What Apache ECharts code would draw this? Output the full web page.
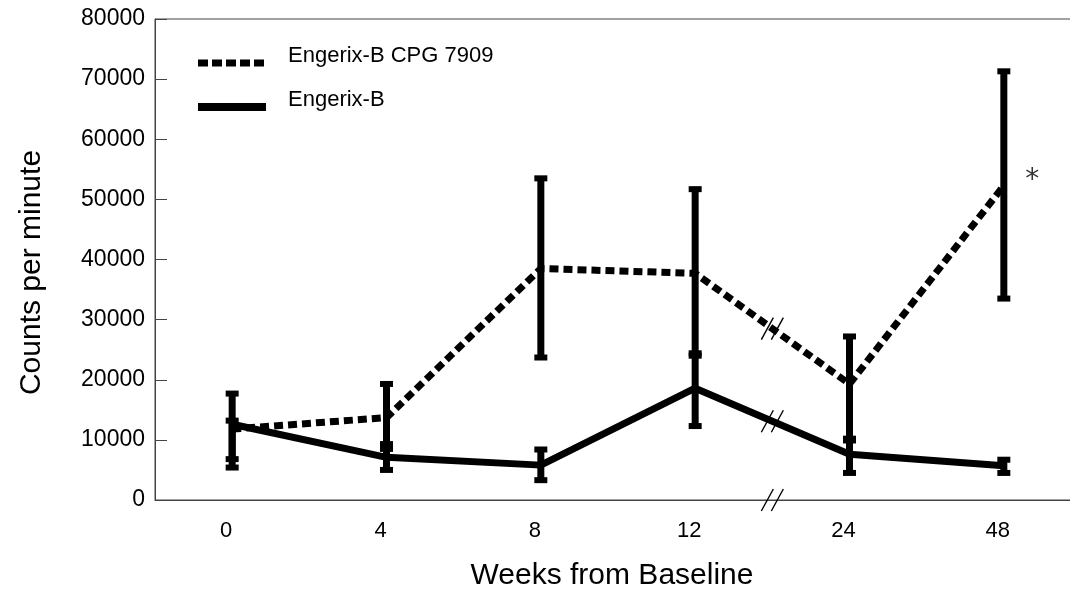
<!DOCTYPE html>
<html>
<head>
<meta charset="utf-8">
<script src="https://cdn.jsdelivr.net/npm/echarts@6/dist/echarts.min.js"></script>
<style>
html,body{margin:0;padding:0;background:#fff;}
#c{width:1070px;height:590px;}
</style>
</head>
<body>
<div id="c"></div>
<script>
// ---- data ----
const weeks = ['0', '4', '8', '12', '24', '48'];
const yTicks = [0, 10000, 20000, 30000, 40000, 50000, 60000, 70000, 80000];

const cpgName = 'Engerix-B CPG 7909';
const cpgMean = [11800, 13700, 38500, 37700, 19300, 52300];
const cpgHigh = [17700, 19300, 53500, 51700, 27200, 71300];
const cpgLow  = [5400, 8500, 23700, 24400, 10200, 33500];

const engName = 'Engerix-B';
const engMean = [12600, 7100, 5800, 18600, 7600, 5700];
const engHigh = [13200, 9300, 8400, 24000, 9900, 6700];
const engLow  = [6800, 5000, 3300, 12300, 4500, 4500];

const breakAfter = 3; // axis break between week 12 and week 24
const starIndex = 5;  // significance marker at week 48
const starText = '*';

// ---- chart ----
const FONT = '"Liberation Sans", Arial, Helvetica, sans-serif';
const chart = echarts.init(document.getElementById('c'), null, {renderer: 'canvas'});

function errData(low, high) { return weeks.map((w, i) => [i, low[i], high[i]]); }

function errRender(params, api) {
  const x = api.value(0);
  const lo = api.coord([x, api.value(1)]);
  const hi = api.coord([x, api.value(2)]);
  const bw = 7, capW = 13, capH = 6;
  return {
    type: 'group',
    children: [
      {type: 'rect', shape: {x: lo[0] - bw / 2, y: hi[1], width: bw, height: lo[1] - hi[1]}, style: {fill: '#000'}},
      {type: 'rect', shape: {x: hi[0] - capW / 2, y: hi[1] - capH / 2, width: capW, height: capH}, style: {fill: '#000'}},
      {type: 'rect', shape: {x: lo[0] - capW / 2, y: lo[1] - capH / 2, width: capW, height: capH}, style: {fill: '#000'}}
    ]
  };
}

function slashes(cx, cy) {
  const h = 11, w = 6, off = 5;
  const mk = (dx) => ({
    type: 'line',
    shape: {x1: cx + dx - w, y1: cy + h, x2: cx + dx + w, y2: cy - h},
    style: {stroke: '#000', lineWidth: 1.4}
  });
  return {type: 'group', children: [mk(-off), mk(off)]};
}

function breakRender(arr) {
  return function (params, api) {
    const a = api.coord([breakAfter, arr ? arr[breakAfter] : 0]);
    const b = api.coord([breakAfter + 1, arr ? arr[breakAfter + 1] : 0]);
    return slashes((a[0] + b[0]) / 2, (a[1] + b[1]) / 2);
  };
}

const option = {
  animation: false,
  backgroundColor: '#fff',
  textStyle: {fontFamily: FONT, color: '#000'},
  grid: {
    left: 155, right: -11, top: 19, bottom: 90,
    outerBoundsMode: 'none', containLabel: false,
    show: true, borderColor: '#444', borderWidth: 1, backgroundColor: 'transparent'
  },
  legend: {
    orient: 'vertical',
    left: 194,
    top: 45,
    padding: 0,
    itemWidth: 68,
    itemHeight: 14,
    itemGap: 8,
    selectedMode: false,
    formatter: (name) => '{t|' + name + '}',
    textStyle: {
      fontFamily: FONT, fontSize: 22, color: '#000',
      rich: {t: {fontFamily: FONT, fontSize: 22, color: '#000', lineHeight: 22, padding: [0, 0, 14, 17]}}
    },
    data: [
      {name: cpgName, itemStyle: {opacity: 0}, lineStyle: {width: 7, type: [10, 4], color: '#000'}},
      {name: engName, itemStyle: {opacity: 0}, lineStyle: {width: 8, type: 'solid', color: '#000'}}
    ]
  },
  xAxis: {
    type: 'category',
    data: weeks,
    boundaryGap: true,
    name: 'Weeks from Baseline',
    nameLocation: 'middle',
    nameGap: 61,
    nameTextStyle: {fontFamily: FONT, fontSize: 30, color: '#000', padding: [0, 12, 0, 0]},
    axisLine: {lineStyle: {color: '#444', width: 1}},
    axisTick: {inside: true, length: 12, alignWithLabel: true, lineStyle: {color: '#444'}},
    axisLabel: {fontFamily: FONT, fontSize: 22, color: '#000', margin: 20, padding: [0, 12, 0, 0]},
    splitLine: {show: false}
  },
  yAxis: {
    type: 'value',
    min: yTicks[0],
    max: yTicks[yTicks.length - 1],
    interval: yTicks[1] - yTicks[0],
    name: 'Counts per minute',
    nameLocation: 'middle',
    nameGap: 108,
    nameTextStyle: {fontFamily: FONT, fontSize: 30, color: '#000', padding: [0, 26, 0, 0]},
    axisLine: {show: true, lineStyle: {color: '#444', width: 1}},
    axisTick: {show: true, inside: true, length: 12, lineStyle: {color: '#444'}},
    axisLabel: {fontFamily: FONT, fontSize: 23, color: '#000', margin: 10, padding: [10, 0, 0, 0], formatter: (v) => String(v)},
    splitLine: {show: false}
  },
  series: [
    {
      name: cpgName,
      type: 'line',
      data: cpgMean,
      symbol: 'none',
      z: 2,
      lineStyle: {color: '#000', width: 7, type: [9, 5], cap: 'butt'},
      itemStyle: {color: '#000'},
      emphasis: {disabled: true},
      silent: true
    },
    {
      name: engName,
      type: 'line',
      data: engMean,
      symbol: 'none',
      z: 2,
      lineStyle: {color: '#000', width: 7, type: 'solid'},
      itemStyle: {color: '#000'},
      emphasis: {disabled: true},
      silent: true
    },
    {type: 'custom', name: cpgName + ' err', data: errData(cpgLow, cpgHigh), renderItem: errRender, z: 3, silent: true},
    {type: 'custom', name: engName + ' err', data: errData(engLow, engHigh), renderItem: errRender, z: 3, silent: true},
    {type: 'custom', data: [[breakAfter, 0]], renderItem: breakRender(cpgMean), z: 4, silent: true, clip: false},
    {type: 'custom', data: [[breakAfter, 0]], renderItem: breakRender(engMean), z: 4, silent: true, clip: false},
    {type: 'custom', data: [[breakAfter, 0]], renderItem: breakRender(null), z: 4, silent: true, clip: false},
    {
      type: 'scatter',
      data: [[starIndex, cpgMean[starIndex]]],
      symbol: 'circle',
      symbolSize: 1,
      itemStyle: {color: 'transparent'},
      z: 5,
      silent: true,
      label: {
        show: true,
        position: 'right',
        distance: 21,
        offset: [0, -5],
        fontFamily: '"DejaVu Sans", sans-serif',
        fontSize: 28,
        color: '#000',
        formatter: () => starText
      },
      emphasis: {disabled: true}
    }
  ]
};
chart.setOption(option);
</script>
</body>
</html>
